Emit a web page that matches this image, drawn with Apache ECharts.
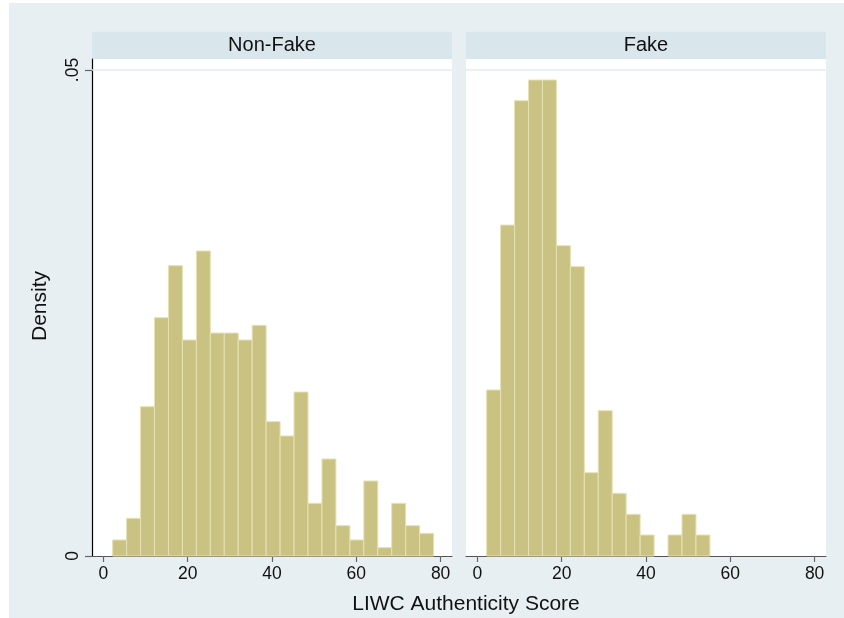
<!DOCTYPE html>
<html>
<head>
<meta charset="utf-8">
<script src="https://cdn.jsdelivr.net/npm/echarts@6/dist/echarts.min.js"></script>
<style>
html,body{margin:0;padding:0;background:#fff;}
#chart{width:844px;height:618px;}
</style>
</head>
<body>
<div id="chart"></div>
<script>
// ---- data ----
const panelTitles = ['Non-Fake', 'Fake'];
const binStart = 2.2;
const binWidth = 3.31;
const nonFakeDensity = [0.00165, 0.00388, 0.01536, 0.02452, 0.02987, 0.02222, 0.03138, 0.02294, 0.02294, 0.02222, 0.02373, 0.01382, 0.01235, 0.01687, 0.00542, 0.00998, 0.00312, 0.00165, 0.00772, 0.00086, 0.00542, 0.00312, 0.00233];
const fakeDensity = [0.01708, 0.03405, 0.04684, 0.04897, 0.04897, 0.03193, 0.02977, 0.00857, 0.01495, 0.00645, 0.00429, 0.00216, 0, 0.00216, 0.00429, 0.00216];
const xTickValues = [0, 20, 40, 60, 80];
const yTickValues = [0, 0.05];
const yTickLabels = ['0', '.05'];
const xTitle = 'LIWC Authenticity Score';
const yTitle = 'Density';

// ---- styles ----
const FONT = '"Liberation Sans", Arial, Helvetica, sans-serif';
const BG = '#e8eff2';
const STRIP = '#d9e6eb';
const BAR_FILL = '#c9c283';
const BAR_EDGE = '#e6e2b4';
const GRIDLINE = '#e3ecef';

function toRows(vals) {
  return vals.map((v, i) => [binStart + i * binWidth, binStart + (i + 1) * binWidth, v]);
}

function renderBar(params, api) {
  const y = api.value(2);
  if (!(y > 0)) return null;
  const p0 = api.coord([api.value(0), y]);
  const p1 = api.coord([api.value(1), 0]);
  return {
    type: 'rect',
    shape: { x: p0[0], y: p0[1], width: p1[0] - p0[0], height: p1[1] - p0[1] },
    style: { fill: BAR_FILL, stroke: BAR_EDGE, lineWidth: 1 }
  };
}

const grids = [
  { left: 92, top: 59, width: 360, height: 497 },
  { left: 466, top: 59, width: 360, height: 497 }
];

const xAxes = grids.map((g, i) => ({
  type: 'value', gridIndex: i, min: -2.7, max: 82.7,
  splitLine: { show: false },
  axisLine: { show: true, lineStyle: { color: '#555', width: 1.2 } },
  axisTick: { show: true, customValues: xTickValues, length: 6, lineStyle: { color: '#666', width: 1.2 } },
  axisLabel: { customValues: xTickValues, color: '#111', fontSize: 17.5, fontFamily: FONT, margin: 9 }
}));

const yAxes = grids.map((g, i) => ({
  type: 'value', gridIndex: i, min: 0, max: 0.05113,
  show: i === 0,
  splitLine: { show: false },
  axisLine: { show: true, onZero: false, lineStyle: { color: '#000', width: 1.2 } },
  axisTick: { show: true, customValues: yTickValues, length: 7, lineStyle: { color: '#666', width: 1.2 } },
  axisLabel: {
    customValues: yTickValues, rotate: 90, color: '#111', fontSize: 17.5, fontFamily: FONT, margin: 10,
    formatter: v => yTickLabels[yTickValues.indexOf(v)] ?? ''
  }
}));

const seriesData = [nonFakeDensity, fakeDensity];
const series = seriesData.map((vals, i) => ({
  type: 'custom', xAxisIndex: i, yAxisIndex: i,
  renderItem: renderBar,
  encode: { x: [0, 1], y: 2 },
  data: toRows(vals),
  silent: true,
  markLine: {
    silent: true, symbol: 'none', label: { show: false },
    lineStyle: { color: GRIDLINE, width: 1.5, type: 'solid' },
    data: [{ yAxis: yTickValues[1] }],
    animation: false
  }
}));

const graphic = [
  { type: 'rect', left: 0, top: 0, shape: { width: 844, height: 3 }, style: { fill: '#fff' }, silent: true },
  { type: 'rect', left: 0, top: 0, shape: { width: 9, height: 618 }, style: { fill: '#fff' }, silent: true }
];
grids.forEach((g, i) => {
  graphic.push({
    type: 'rect', left: g.left, top: 31.7, shape: { width: g.width, height: 27.3 },
    style: { fill: STRIP }, silent: true
  });
  graphic.push({
    type: 'text', x: g.left + g.width / 2, y: 45.5,
    style: { text: panelTitles[i], fill: '#111', font: '20px ' + FONT, textAlign: 'center', textVerticalAlign: 'middle' },
    silent: true
  });
});
graphic.push({
  type: 'text', x: 466, y: 604,
  style: { text: xTitle, fill: '#111', font: '21px ' + FONT, textAlign: 'center', textVerticalAlign: 'middle' },
  silent: true
});
graphic.push({
  type: 'text', x: 40, y: 306, rotation: Math.PI / 2,
  style: { text: yTitle, fill: '#111', font: '21px ' + FONT, textAlign: 'center', textVerticalAlign: 'middle' },
  silent: true
});

const chart = echarts.init(document.getElementById('chart'), null, { renderer: 'canvas' });
chart.setOption({
  animation: false,
  backgroundColor: BG,
  grid: grids.map(g => Object.assign({ show: true, backgroundColor: '#fff', borderWidth: 0, containLabel: false }, g)),
  xAxis: xAxes,
  yAxis: yAxes,
  series: series,
  graphic: graphic
});
</script>
</body>
</html>
